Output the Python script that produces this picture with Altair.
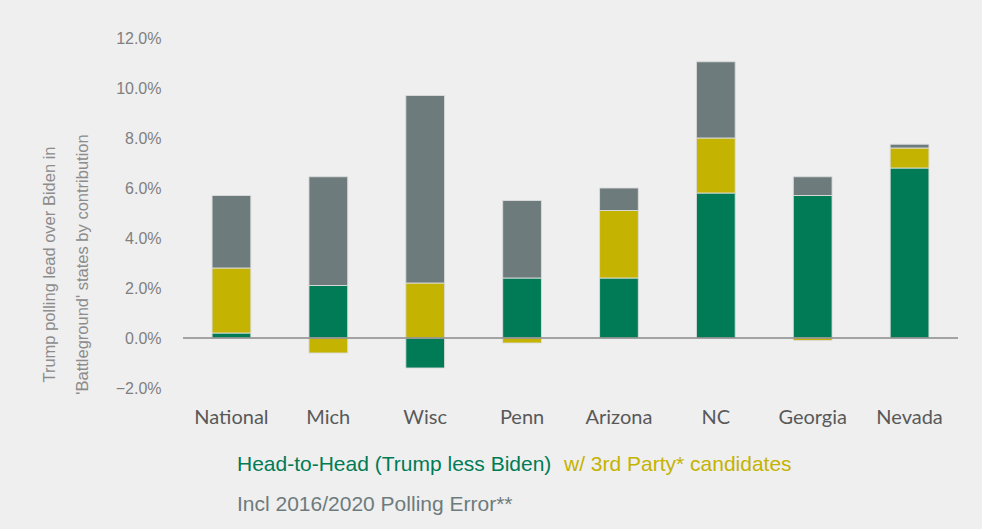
import altair as alt
import pandas as pd

states = ["National", "Mich", "Wisc", "Penn", "Arizona", "NC", "Georgia", "Nevada"]
series = ["Head-to-Head (Trump less Biden)", "w/ 3rd Party* candidates", "Incl 2016/2020 Polling Error**"]
head_to_head = [0.2, 2.1, -1.2, 2.4, 2.4, 5.8, 5.7, 6.8]
third_party = [2.6, -0.6, 2.2, -0.2, 2.7, 2.2, -0.1, 0.8]
polling_error = [2.9, 4.35, 7.5, 3.1, 0.9, 3.05, 0.75, 0.15]
y_ticks = [-2, 0, 2, 4, 6, 8, 10, 12]
palette = ["#007b55", "#c4b300", "#6d7b7d"]

rows = []
for vals, name, order in [(head_to_head, series[0], 0), (third_party, series[1], 1), (polling_error, series[2], 2)]:
    for s, v in zip(states, vals):
        rows.append({"state": s, "series": name, "value": v, "order": order})
df = pd.DataFrame(rows)

x_enc = alt.X("state:N", sort=states,
              scale=alt.Scale(paddingInner=0.6, paddingOuter=0.3),
              axis=alt.Axis(title=None, labelAngle=0, domain=False, ticks=False,
                            labelPadding=19, labelFont="Lato", labelFontSize=20,
                            labelColor="#595959"))

bars = alt.Chart(df).mark_bar(stroke="#dcdcdc", strokeWidth=1, strokeOpacity=0.9).encode(
    x=x_enc,
    y=alt.Y("value:Q", stack="zero",
            scale=alt.Scale(domain=[-2, 12], nice=False, zero=False),
            axis=alt.Axis(values=y_ticks, grid=False, domain=False, ticks=False,
                          labelExpr="format(datum.value, '.1f') + '%'",
                          labelPadding=22, labelFont="Liberation Sans", labelFontSize=16,
                          labelColor="#7f7f7f",
                          title=["Trump polling lead over Biden in", "'Battleground' states by contribution"],
                          titleFont="Liberation Sans", titleFontSize=16.5, titleFontWeight="normal",
                          titleColor="#8c8c8c", titleLineHeight=33, titleAngle=-90,
                          titleAlign="center", titleBaseline="middle",
                          titleX=-134, titleY=226)),
    color=alt.Color("series:N", scale=alt.Scale(domain=series, range=palette), legend=None),
    order=alt.Order("order:Q"),
)

zero = alt.Chart(pd.DataFrame({"y": [0]})).mark_rule(color="#8a8a8a", strokeWidth=1.5).encode(
    y=alt.Y("y:Q")
)

def legend_text(label, color, xpos, ypos):
    return alt.Chart(pd.DataFrame({"label": [label]})).mark_text(
        align="left", baseline="middle", font="Liberation Sans", fontSize=21, color=color
    ).encode(text="label:N", x=alt.value(xpos), y=alt.value(ypos))

leg1 = legend_text(series[0], palette[0], 54, 427)
leg2 = legend_text(series[1], palette[1], 381, 427)
leg3 = legend_text(series[2], palette[2], 54, 467)

chart = alt.layer(bars, zero, leg1, leg2, leg3).properties(
    width=775, height=350,
    autosize=alt.AutoSizeParams(type="none"),
    padding={"left": 183, "top": 38, "right": 24, "bottom": 141},
    background="#efefef",
).configure_view(stroke=None)

chart.save("out.html", embed_options={"renderer": "svg", "actions": False})
